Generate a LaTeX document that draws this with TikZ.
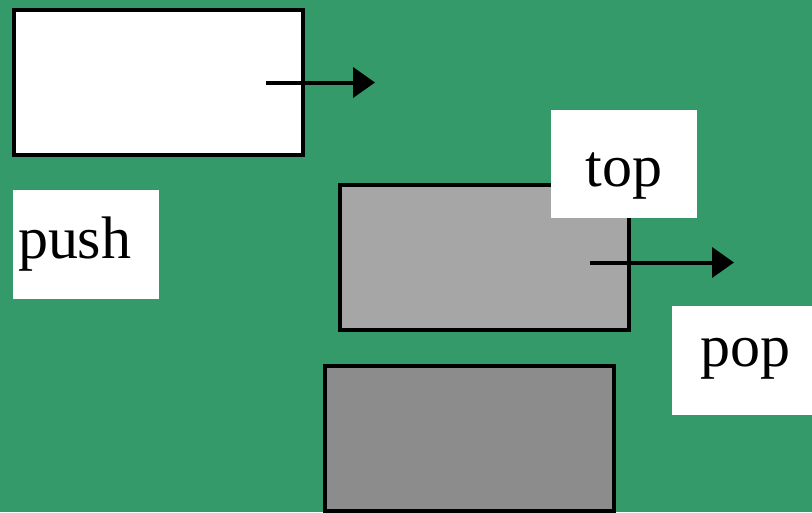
\documentclass[tikz,border=0pt]{standalone}
\usepackage{fontspec}
\setmainfont{Liberation Serif}
\usetikzlibrary{arrows.meta}
\definecolor{boardgreen}{RGB}{53,154,105}
\definecolor{stackgrey}{RGB}{166,166,166}
\definecolor{basegrey}{RGB}{140,140,140}

\begin{document}
\begin{tikzpicture}[
    x=1pt, y=-1pt,
    cell/.style={rectangle, draw, line width=4pt, minimum width=289pt, minimum height=145pt, inner sep=0pt},
    tag/.style={rectangle, fill=white, minimum width=146pt, inner sep=0pt, font=\fontsize{60}{72}\selectfont},
    arrow/.style={-{Triangle[length=22pt, width=30pt]}, line width=4pt}
]
    % Background
    \useasboundingbox (0,0) rectangle (812,512);
    \clip (0,0) rectangle (812,512);
    \fill[boardgreen] (0,0) rectangle (812,512);

    % New element and push
    \node[cell, fill=white] (newcell) at (158,82.5) {};
    \coordinate (pushfrom) at (266,82.5);
    \coordinate (pushto) at (375,82.5);
    \draw[arrow] (pushfrom) -- (pushto);
    \node[tag, text height=68pt, text depth=41pt, text width=136pt, align=left] (pushtag) at (86,244.5) {push};

    % Stack
    \node[cell, fill=basegrey] (lowercell) at (469.5,438.5) {};
    \node[cell, fill=stackgrey] (topcell) at (484.75,257.5) {};
    \node[tag, text height=76pt, text depth=32pt] (toptag) at (624,164) {top};

    % Pop
    \coordinate (popfrom) at (590,262.5);
    \coordinate (popto) at (734,262.5);
    \draw[arrow] (popfrom) -- (popto);
    \node[tag, text height=60pt, text depth=49pt] (poptag) at (745,360.5) {pop};
\end{tikzpicture}
\end{document}
